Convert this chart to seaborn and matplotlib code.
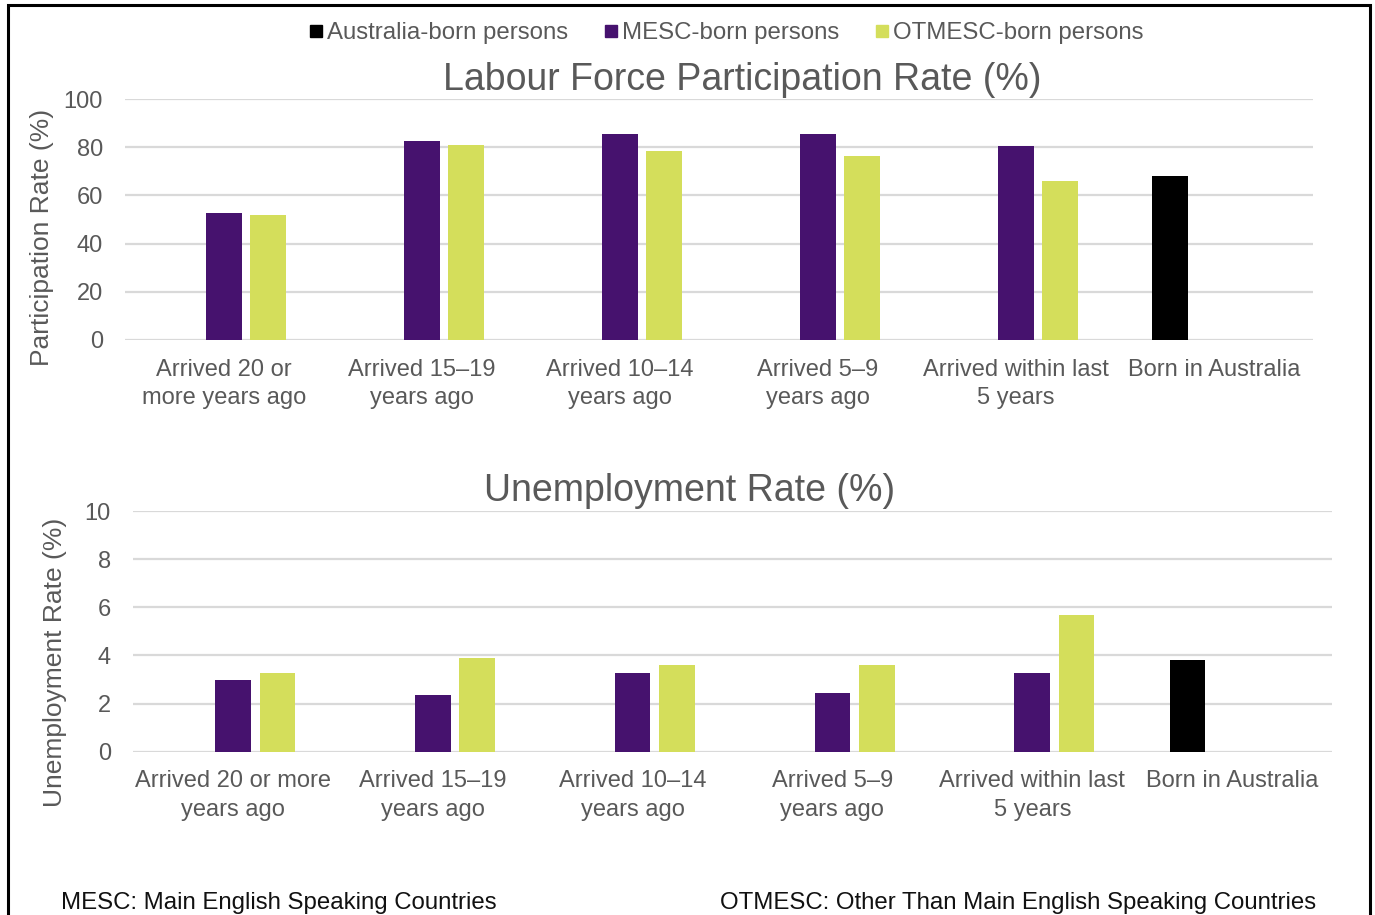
import matplotlib
matplotlib.use("Agg")
import matplotlib.pyplot as plt
from matplotlib.lines import Line2D
from matplotlib.patches import Rectangle
import seaborn as sns
import pandas as pd

# ---------------- data ----------------
categories = ["Arrived 20 or more years ago", "Arrived 15-19 years ago",
              "Arrived 10-14 years ago", "Arrived 5-9 years ago",
              "Arrived within last 5 years", "Born in Australia"]
top_ticklabels = ["Arrived 20 or\nmore years ago", "Arrived 15\u201319\nyears ago",
                  "Arrived 10\u201314\nyears ago", "Arrived 5\u20139\nyears ago",
                  "Arrived within last\n5 years", "Born in Australia"]
bottom_ticklabels = ["Arrived 20 or more\nyears ago", "Arrived 15\u201319\nyears ago",
                     "Arrived 10\u201314\nyears ago", "Arrived 5\u20139\nyears ago",
                     "Arrived within last\n5 years", "Born in Australia"]
series = ["Australia-born persons", "MESC-born persons", "OTMESC-born persons"]

# Participation rate (%)
part_australia = [None, None, None, None, None, 68.0]
part_mesc = [52.7, 82.7, 85.5, 85.5, 80.3, None]
part_otmesc = [51.9, 80.9, 78.4, 76.4, 66.1, None]

# Unemployment rate (%)
unemp_australia = [None, None, None, None, None, 3.8]
unemp_mesc = [2.96, 2.35, 3.25, 2.44, 3.28, None]
unemp_otmesc = [3.25, 3.9, 3.61, 3.6, 5.69, None]

colors = {"Australia-born persons": "#000000",
          "MESC-born persons": "#46126E",
          "OTMESC-born persons": "#D4DE5B"}


def long_frame(aus, mesc, otmesc):
    rows = []
    for s, vals in zip(series, [aus, mesc, otmesc]):
        for c, v in zip(categories, vals):
            if v is not None:
                rows.append({"category": c, "series": s, "value": v})
    return pd.DataFrame(rows)


df_part = long_frame(part_australia, part_mesc, part_otmesc)
df_unemp = long_frame(unemp_australia, unemp_mesc, unemp_otmesc)

# ---------------- style ----------------
sns.set_theme(style="white")
plt.rcParams["font.family"] = ["Liberation Sans", "DejaVu Sans"]
GREY = "#595959"
GRID = "#D9D9D9"

W, H = 1375, 915
fig = plt.figure(figsize=(W / 100, H / 100), dpi=100)


def fx(px):
    return px / W


def fy(py):
    return 1 - py / H


ax1 = fig.add_axes([fx(125), fy(340), fx(1313) - fx(125), fy(99) - fy(340)])
ax2 = fig.add_axes([fx(133), fy(751.7), fx(1332) - fx(133), fy(511) - fy(751.7)])

for ax, df, ylim, ticks, tl in [
        (ax1, df_part, 100, range(0, 101, 20), top_ticklabels),
        (ax2, df_unemp, 10, range(0, 11, 2), bottom_ticklabels)]:
    sns.barplot(data=df, x="category", y="value", hue="series",
                order=categories, hue_order=series, palette=colors,
                saturation=1, width=0.667, gap=0.2, errorbar=None,
                legend=False, ax=ax, zorder=3, edgecolor="none")
    ax.set_ylim(0, ylim)
    ax.set_xlim(-0.5, len(categories) - 0.5)
    ax.set_yticks(list(ticks))
    ax.set_xticks(range(len(categories)))
    ax.set_xticklabels(tl, linespacing=1.38)
    ax.yaxis.grid(True, color=GRID, linewidth=1.6, zorder=0)
    ax.set_axisbelow(True)
    for sp in ax.spines.values():
        sp.set_visible(False)
    ax.tick_params(axis="y", length=0, pad=16, labelsize=17, labelcolor=GREY)
    ax.tick_params(axis="x", length=0, pad=13.5, labelsize=17, labelcolor=GREY)
    ax.set_xlabel("")
    ax.set_ylabel("")
    ax.set_facecolor("white")

# titles
fig.text(fx(742), fy(80), "Labour Force Participation Rate (%)", ha="center",
         va="center", fontsize=27, color=GREY)
fig.text(fx(690), fy(491), "Unemployment Rate (%)", ha="center",
         va="center", fontsize=27, color=GREY)

# y labels
fig.text(fx(42), fy(237), "Participation Rate (%)", rotation=90, ha="center",
         va="center", fontsize=19, color=GREY)
fig.text(fx(55), fy(662), "Unemployment Rate (%)", rotation=90, ha="center",
         va="center", fontsize=19, color=GREY)

# legend
handles = [Line2D([0], [0], marker="s", linestyle="none", markersize=8.5,
                  markerfacecolor=colors[s], markeredgecolor=colors[s])
           for s in series]
fig.legend(handles, series, loc="center", bbox_to_anchor=(fx(726), fy(33)),
           ncol=3, frameon=False, fontsize=17.3, handlelength=0.6,
           handletextpad=0.15, columnspacing=1.5, labelcolor=GREY)

# footnotes
fig.text(fx(61), fy(903), "MESC: Main English Speaking Countries", ha="left",
         va="center", fontsize=17.3, color="#111111")
fig.text(fx(1316), fy(903), "OTMESC: Other Than Main English Speaking Countries",
         ha="right", va="center", fontsize=17.3, color="#111111")

# outer frame
fig.patches.append(Rectangle((fx(8), -0.05), fx(1370) - fx(8), fy(5) + 0.05,
                             transform=fig.transFigure, fill=False,
                             edgecolor="black", linewidth=2.2, zorder=10))

fig.savefig("out.png", dpi=100, facecolor="white")
